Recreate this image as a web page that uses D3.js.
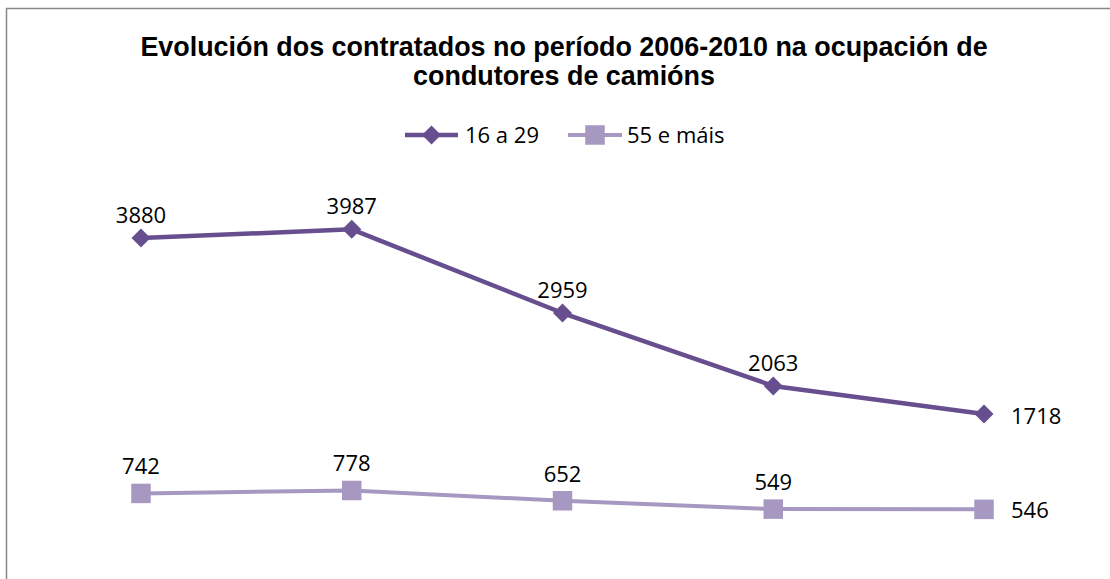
<!DOCTYPE html>
<html><head><meta charset="utf-8">
<script src="https://cdn.jsdelivr.net/npm/d3@7/dist/d3.min.js"></script>
<style>body{margin:0;background:#fff}svg{display:block}</style>
</head><body>
<script>
const categories = ["2006","2007","2008","2009","2010"];
const seriesNames = ["16 a 29","55 e máis"];
const young = [3880,3987,2959,2063,1718];
const old = [742,778,652,549,546];
const titleLines = ["Evolución dos contratados no período 2006-2010 na ocupación de","condutores de camións"];

const W=1110,H=579;
const svg=d3.select("body").append("svg").attr("width",W).attr("height",H);
svg.append("rect").attr("x",6.5).attr("y",8.5).attr("width",W).attr("height",H).attr("fill","#fff").attr("stroke","#898989").attr("stroke-width",1.5);

const x=d3.scalePoint().domain(categories).range([35.6,1089.4]).padding(0.5);
const y=d3.scaleLinear().domain([0,4500]).range([553.8,187.6]);

const font="'Open Sans', 'Noto Sans', sans-serif";
svg.append("g").selectAll("text").data(titleLines).join("text")
  .attr("x",564).attr("y",(d,i)=>56+i*29).attr("text-anchor","middle")
  .attr("font-family","'Liberation Sans', Arial, sans-serif").attr("font-weight","bold").attr("font-size",26.9).attr("fill","#000").text(d=>d);

const diamond={draw(ctx,size){const r=Math.sqrt(size/2);ctx.moveTo(0,-r);ctx.lineTo(r,0);ctx.lineTo(0,r);ctx.lineTo(-r,0);ctx.closePath();}};
const series=[{name:seriesNames[0],vals:young,color:"#674f8f",sw:4.5,shape:diamond,size:180,up:15,dn:10},
              {name:seriesNames[1],vals:old,color:"#a698c0",sw:4,shape:d3.symbolSquare,size:380,up:19,dn:9}];
const line=d3.line().x((d,i)=>x(categories[i])).y(d=>y(d));

series.forEach((s,si)=>{
  const g=svg.append("g");
  const n=s.vals.length-1;
  g.append("path").attr("d",line(s.vals)).attr("fill","none").attr("stroke",s.color).attr("stroke-width",s.sw).attr("stroke-linejoin","round");
  g.selectAll("path.m").data(s.vals).join("path").attr("class","m")
    .attr("transform",(d,i)=>`translate(${x(categories[i])},${y(d)})`)
    .attr("d",d3.symbol().type(s.shape).size(s.size)).attr("fill",s.color);
  g.selectAll("text").data(s.vals).join("text")
    .attr("x",(d,i)=>i===n? x(categories[i])+27 : x(categories[i]))
    .attr("y",(d,i)=>i===n? y(d)+s.dn : y(d)-s.up)
    .attr("text-anchor",(d,i)=>i===n?"start":"middle")
    .attr("font-family",font).attr("font-size",22).attr("fill","#000").text(d=>d);
});

// legend
const leg=[{x1:405,x2:458,tx:465},{x1:568,x2:622,tx:627}];
series.forEach((s,i)=>{
  const l=leg[i], ly=135;
  svg.append("line").attr("x1",l.x1).attr("x2",l.x2).attr("y1",ly).attr("y2",ly).attr("stroke",s.color).attr("stroke-width",s.sw);
  svg.append("path").attr("transform",`translate(${(l.x1+l.x2)/2},${ly})`).attr("d",d3.symbol().type(s.shape).size(s.size)).attr("fill",s.color);
  svg.append("text").attr("x",l.tx).attr("y",ly+7.5).attr("font-family",font).attr("font-size",22).attr("fill","#000").text(s.name);
});
</script>
</body></html>
